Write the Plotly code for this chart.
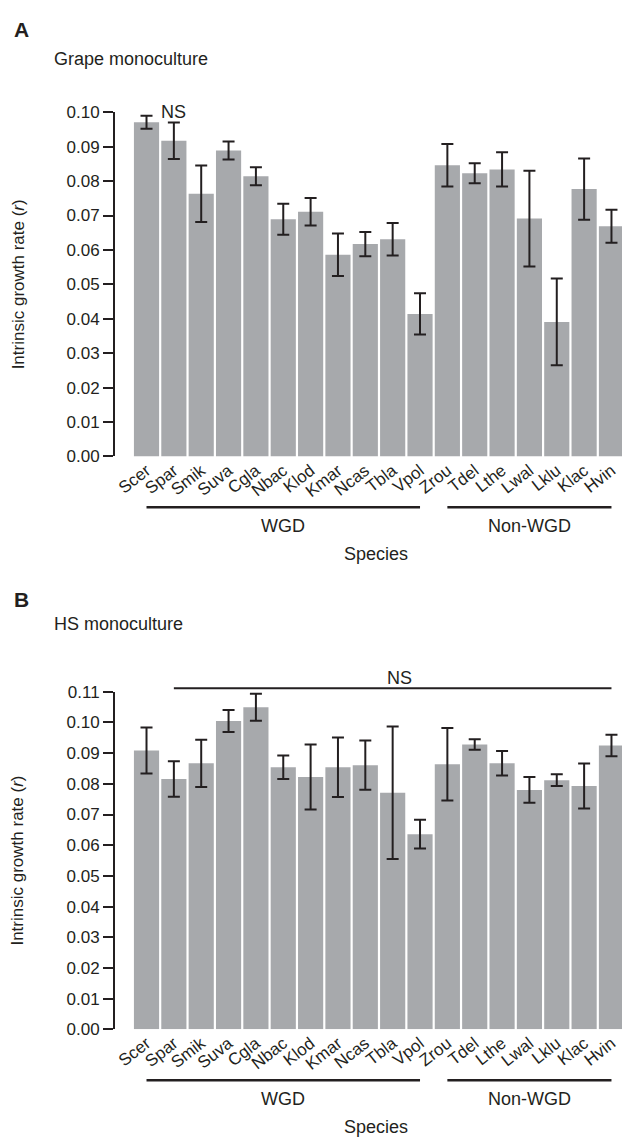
import plotly.graph_objects as go

species = ["Scer", "Spar", "Smik", "Suva", "Cgla", "Nbac", "Klod", "Kmar", "Ncas",
           "Tbla", "Vpol", "Zrou", "Tdel", "Lthe", "Lwal", "Lklu", "Klac", "Hvin"]

grape_r = [0.0971, 0.0917, 0.0763, 0.0889, 0.0814, 0.0689, 0.0711, 0.0586, 0.0617,
           0.0631, 0.0414, 0.0846, 0.0823, 0.0834, 0.0691, 0.0391, 0.0777, 0.0669]
grape_err = [0.0019, 0.0053, 0.0082, 0.0026, 0.0026, 0.0045, 0.0040, 0.0062, 0.0035,
             0.0047, 0.0060, 0.0062, 0.0029, 0.0050, 0.0139, 0.0126, 0.0089, 0.0048]

hs_r = [0.0909, 0.0816, 0.0867, 0.1005, 0.1050, 0.0854, 0.0822, 0.0854, 0.0861,
        0.0771, 0.0636, 0.0864, 0.0928, 0.0867, 0.0780, 0.0812, 0.0793, 0.0925]
hs_err = [0.0075, 0.0058, 0.0077, 0.0036, 0.0044, 0.0038, 0.0106, 0.0097, 0.0080,
          0.0216, 0.0047, 0.0118, 0.0017, 0.0040, 0.0042, 0.0019, 0.0073, 0.0035]

ticks_a = [0.00, 0.01, 0.02, 0.03, 0.04, 0.05, 0.06, 0.07, 0.08, 0.09, 0.10]
ticks_b = [0.00, 0.01, 0.02, 0.03, 0.04, 0.05, 0.06, 0.07, 0.08, 0.09, 0.10, 0.11]

W, H = 622, 1147
FONT = "Liberation Sans, Arial, Helvetica, sans-serif"
INK = "#231f20"
BAR = "#a7a9ac"


def py(p):
    """pixel y (from top) -> paper y"""
    return (H - p) / H


def px(p):
    return p / W


fig = go.Figure()

for (vals, errs, xa, ya) in [(grape_r, grape_err, "x", "y"), (hs_r, hs_err, "x2", "y2")]:
    fig.add_trace(go.Bar(
        x=species, y=vals, xaxis=xa, yaxis=ya,
        marker=dict(color=BAR, line=dict(width=0)),
        error_y=dict(type="data", array=errs, symmetric=True,
                     color=INK, thickness=2, width=6),
        showlegend=False,
    ))

xrange = [-1.152, 17.385]
xdom = [px(115), 1.0]

axis_common_x = dict(
    type="category", range=xrange, domain=xdom, showline=False, showgrid=False,
    zeroline=False, ticks="", tickangle=-38,
    tickfont=dict(family=FONT, size=17, color=INK),
)
axis_common_y = dict(
    showline=True, linecolor=INK, linewidth=2, showgrid=False, zeroline=False,
    ticks="outside", ticklen=10, tickwidth=1.5, tickcolor=INK,
    tickformat=".2f", tickfont=dict(family=FONT, size=17, color=INK),
)

fig.update_layout(
    width=W, height=H, autosize=False,
    margin=dict(l=0, r=0, t=0, b=0),
    paper_bgcolor="white", plot_bgcolor="white",
    bargap=0.08,
    font=dict(family=FONT, color=INK),
    xaxis=dict(anchor="y", **axis_common_x),
    yaxis=dict(anchor="x", domain=[py(455), py(105)], range=[0, 0.10],
               tickvals=ticks_a, **axis_common_y),
    xaxis2=dict(anchor="y2", **axis_common_x),
    yaxis2=dict(anchor="x2", domain=[py(1037.5), py(694.3)], range=[0, 0.11],
                tickvals=ticks_b, **axis_common_y),
)

ann = []
shapes = []

# Panel letters and titles
ann.append(dict(text="<b>A</b>", x=px(12), y=py(21), xref="paper", yref="paper",
                xanchor="left", yanchor="middle", showarrow=False,
                font=dict(family=FONT, size=21, color=INK)))
ann.append(dict(text="Grape monoculture", x=px(52), y=py(50.5), xref="paper", yref="paper",
                xanchor="left", yanchor="middle", showarrow=False,
                font=dict(family=FONT, size=18, color=INK)))
ann.append(dict(text="<b>B</b>", x=px(12), y=py(600), xref="paper", yref="paper",
                xanchor="left", yanchor="middle", showarrow=False,
                font=dict(family=FONT, size=21, color=INK)))
ann.append(dict(text="HS monoculture", x=px(52), y=py(625), xref="paper", yref="paper",
                xanchor="left", yanchor="middle", showarrow=False,
                font=dict(family=FONT, size=18, color=INK)))

# y-axis titles
for yc in [(105 + 455) / 2, (694.3 + 1037.5) / 2]:
    ann.append(dict(text="Intrinsic growth rate (<i>r</i>)", x=px(18), y=py(yc),
                    xref="paper", yref="paper", textangle=-90,
                    xanchor="center", yanchor="middle", showarrow=False,
                    font=dict(family=FONT, size=17, color=INK)))

# NS annotations
ann.append(dict(text="NS", x=1, y=0.10, xref="x", yref="y", xanchor="center",
                yanchor="middle", showarrow=False,
                font=dict(family=FONT, size=18, color=INK)))
ann.append(dict(text="NS", x=9.25, y=py(680), xref="x2", yref="paper", xanchor="center",
                yanchor="middle", showarrow=False,
                font=dict(family=FONT, size=18, color=INK)))
shapes.append(dict(type="line", xref="x2", yref="paper", x0=1, x1=17,
                   y0=py(690.7), y1=py(690.7), line=dict(color=INK, width=2)))

# Group brackets, group labels, Species labels
for xr, base in [("x", 455), ("x2", 1037.5)]:
    yl = base + 51.7
    shapes.append(dict(type="line", xref=xr, yref="paper", x0=0, x1=10,
                       y0=py(yl), y1=py(yl), line=dict(color=INK, width=2.5)))
    shapes.append(dict(type="line", xref=xr, yref="paper", x0=11, x1=17,
                       y0=py(yl), y1=py(yl), line=dict(color=INK, width=2.5)))
    ann.append(dict(text="WGD", x=5, y=py(base + 70.5), xref=xr, yref="paper",
                    xanchor="center", yanchor="middle", showarrow=False,
                    font=dict(family=FONT, size=18, color=INK)))
    ann.append(dict(text="Non-WGD", x=14, y=py(base + 70.5), xref=xr, yref="paper",
                    xanchor="center", yanchor="middle", showarrow=False,
                    font=dict(family=FONT, size=18, color=INK)))
    ann.append(dict(text="Species", x=px(376), y=py(base + 99), xref="paper", yref="paper",
                    xanchor="center", yanchor="middle", showarrow=False,
                    font=dict(family=FONT, size=18, color=INK)))

fig.update_layout(annotations=ann, shapes=shapes)

fig.write_html("out.html")
